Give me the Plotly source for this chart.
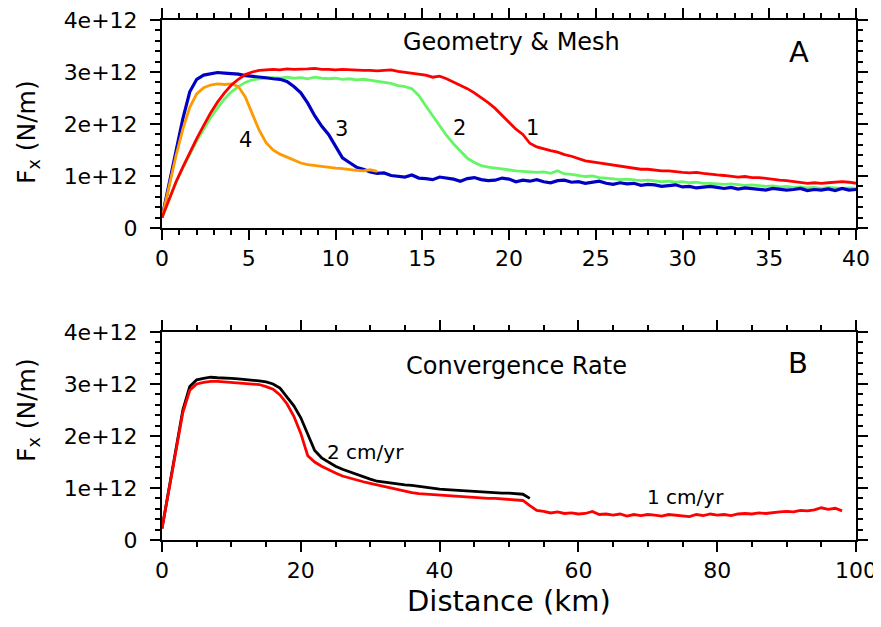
import plotly.graph_objects as go

# ---------------- Panel A data (Fx in units of 1e12 N/m) ----------------
dist_a = [0.0, 0.4, 0.8, 1.2, 1.6, 2.0, 2.4, 2.8, 3.2, 3.6,
          4.0, 4.4, 4.8, 5.2, 5.6, 6.0, 6.4, 6.8, 7.2, 7.6,
          8.0, 8.4, 8.8, 9.2, 9.6, 10.0, 10.4, 10.8, 11.2, 11.6,
          12.0, 12.4, 12.8, 13.2, 13.6, 14.0, 14.4, 14.8, 15.2, 15.6,
          16.0, 16.4, 16.8, 17.2, 17.6, 18.0, 18.4, 18.8, 19.2, 19.6,
          20.0, 20.4, 20.8, 21.2, 21.6, 22.0, 22.4, 22.8, 23.2, 23.6,
          24.0, 24.4, 24.8, 25.2, 25.6, 26.0, 26.4, 26.8, 27.2, 27.6,
          28.0, 28.4, 28.8, 29.2, 29.6, 30.0, 30.4, 30.8, 31.2, 31.6,
          32.0, 32.4, 32.8, 33.2, 33.6, 34.0, 34.4, 34.8, 35.2, 35.6,
          36.0, 36.4, 36.8, 37.2, 37.6, 38.0, 38.4, 38.8, 39.2, 39.6,
          40.0]

fx_case1 = [0.20, 0.55, 0.88, 1.17, 1.45, 1.72, 1.97, 2.21, 2.42, 2.60,
            2.75, 2.86, 2.95, 3.00, 3.03, 3.04, 3.05, 3.04, 3.06, 3.05,
            3.05, 3.06, 3.07, 3.05, 3.05, 3.04, 3.05, 3.04, 3.04, 3.03,
            3.03, 3.02, 3.03, 3.04, 3.01, 2.99, 2.98, 2.96, 2.94, 2.90,
            2.92, 2.87, 2.81, 2.75, 2.68, 2.60, 2.51, 2.41, 2.30, 2.16,
            2.03, 1.90, 1.80, 1.63, 1.56, 1.52, 1.49, 1.46, 1.41, 1.38,
            1.33, 1.29, 1.27, 1.25, 1.22, 1.20, 1.18, 1.17, 1.15, 1.13,
            1.13, 1.11, 1.10, 1.10, 1.08, 1.07, 1.06, 1.07, 1.05, 1.03,
            1.02, 1.01, 1.00, 0.98, 0.99, 0.97, 0.97, 0.95, 0.93, 0.92,
            0.91, 0.89, 0.88, 0.86, 0.87, 0.86, 0.87, 0.88, 0.89, 0.88,
            0.86]

fx_case2 = [0.20, 0.55, 0.87, 1.15, 1.42, 1.67, 1.90, 2.12, 2.31, 2.48,
            2.62, 2.72, 2.80, 2.85, 2.87, 2.88, 2.89, 2.88, 2.90, 2.88,
            2.89, 2.87, 2.90, 2.88, 2.87, 2.88, 2.86, 2.87, 2.85, 2.86,
            2.84, 2.83, 2.80, 2.78, 2.74, 2.72, 2.68, 2.55, 2.35, 2.16,
            1.98, 1.78, 1.62, 1.48, 1.34, 1.26, 1.20, 1.17, 1.15, 1.13,
            1.12, 1.10, 1.09, 1.08, 1.07, 1.08, 1.05, 1.10, 1.04, 1.03,
            1.01, 0.99, 1.00, 0.97, 0.96, 0.95, 0.93, 0.94, 0.92, 0.91,
            0.92, 0.90, 0.89, 0.90, 0.88, 0.89, 0.87, 0.88, 0.86, 0.86,
            0.85, 0.84, 0.85, 0.83, 0.82, 0.83, 0.81, 0.80, 0.81, 0.79,
            0.80, 0.78, 0.79, 0.77, 0.78, 0.76, 0.78, 0.77, 0.76, 0.77,
            0.76]

fx_case3 = [0.20, 0.85, 1.50, 2.10, 2.62, 2.86, 2.94, 2.97, 2.99, 2.98,
            2.97, 2.96, 2.93, 2.92, 2.90, 2.89, 2.87, 2.86, 2.82, 2.72,
            2.60, 2.40, 2.16, 1.96, 1.80, 1.57, 1.35, 1.26, 1.17, 1.13,
            1.08, 1.05, 1.06, 1.01, 1.00, 0.98, 1.02, 0.96, 0.95, 0.93,
            0.98, 0.96, 0.94, 0.90, 0.95, 0.97, 0.93, 0.91, 0.92, 0.96,
            0.94, 0.89, 0.92, 0.90, 0.93, 0.89, 0.87, 0.91, 0.92, 0.88,
            0.89, 0.86, 0.88, 0.90, 0.86, 0.84, 0.87, 0.85, 0.86, 0.82,
            0.84, 0.83, 0.80, 0.82, 0.83, 0.79, 0.80, 0.77, 0.79, 0.80,
            0.78, 0.76, 0.78, 0.75, 0.77, 0.76, 0.74, 0.73, 0.76, 0.75,
            0.73, 0.74, 0.76, 0.72, 0.74, 0.73, 0.75, 0.72, 0.76, 0.73,
            0.74]

dist_a4 = [0.0, 0.4, 0.8, 1.2, 1.6, 2.0, 2.4, 2.8, 3.2, 3.6,
           4.0, 4.4, 4.8, 5.2, 5.6, 6.0, 6.4, 6.8, 7.2, 7.6,
           8.0, 8.4, 8.8, 9.2, 9.6, 10.0, 10.4, 10.8, 11.2, 11.6,
           12.0, 12.4]
fx_case4 = [0.20, 0.80, 1.38, 1.90, 2.32, 2.58, 2.70, 2.75, 2.77, 2.76,
            2.77, 2.72, 2.52, 2.20, 1.88, 1.64, 1.50, 1.42, 1.36, 1.30,
            1.25, 1.22, 1.20, 1.18, 1.17, 1.15, 1.14, 1.12, 1.11, 1.10,
            1.12, 1.09]

# ---------------- Panel B data ----------------
dist_b = [0, 1, 2, 3, 4, 5, 6, 7, 8, 9,
          10, 11, 12, 13, 14, 15, 16, 17, 18, 19,
          20, 21, 22, 23, 24, 25, 26, 27, 28, 29,
          30, 31, 32, 33, 34, 35, 36, 37, 38, 39,
          40, 41, 42, 43, 44, 45, 46, 47, 48, 49,
          50, 51, 52, 53, 54, 55, 56, 57, 58, 59,
          60, 61, 62, 63, 64, 65, 66, 67, 68, 69,
          70, 71, 72, 73, 74, 75, 76, 77, 78, 79,
          80, 81, 82, 83, 84, 85, 86, 87, 88, 89,
          90, 91, 92, 93, 94, 95, 96, 97, 98]

fx_1cm = [0.22, 0.95, 1.72, 2.45, 2.88, 3.00, 3.03, 3.05, 3.05, 3.04,
          3.04, 3.03, 3.02, 3.00, 2.99, 2.95, 2.90, 2.79, 2.62, 2.38,
          2.05, 1.62, 1.50, 1.42, 1.35, 1.29, 1.23, 1.19, 1.15, 1.12,
          1.09, 1.06, 1.02, 0.99, 0.97, 0.94, 0.91, 0.89, 0.88, 0.87,
          0.86, 0.85, 0.85, 0.83, 0.83, 0.82, 0.81, 0.80, 0.80, 0.79,
          0.78, 0.77, 0.76, 0.66, 0.57, 0.55, 0.52, 0.54, 0.51, 0.52,
          0.50, 0.51, 0.55, 0.49, 0.50, 0.48, 0.50, 0.46, 0.49, 0.47,
          0.49, 0.48, 0.46, 0.49, 0.48, 0.47, 0.45, 0.49, 0.47, 0.50,
          0.48, 0.49, 0.47, 0.50, 0.51, 0.50, 0.52, 0.51, 0.53, 0.54,
          0.55, 0.54, 0.57, 0.56, 0.58, 0.62, 0.59, 0.61, 0.56]

dist_b2 = [0, 1, 2, 3, 4, 5, 6, 7, 8, 9,
           10, 11, 12, 13, 14, 15, 16, 17, 18, 19,
           20, 21, 22, 23, 24, 25, 26, 27, 28, 29,
           30, 31, 32, 33, 34, 35, 36, 37, 38, 39,
           40, 41, 42, 43, 44, 45, 46, 47, 48, 49,
           50, 51, 52, 53]
fx_2cm = [0.22, 0.97, 1.76, 2.50, 2.95, 3.08, 3.11, 3.13, 3.12, 3.12,
          3.11, 3.10, 3.09, 3.08, 3.06, 3.04, 3.00, 2.92, 2.76, 2.58,
          2.35, 2.02, 1.72, 1.58, 1.50, 1.42, 1.36, 1.31, 1.27, 1.22,
          1.17, 1.13, 1.11, 1.09, 1.07, 1.06, 1.05, 1.03, 1.01, 1.00,
          0.98, 0.97, 0.96, 0.96, 0.94, 0.93, 0.92, 0.92, 0.91, 0.90,
          0.90, 0.89, 0.88, 0.80]

y_tick_vals = [0, 1, 2, 3, 4]
y_tick_text = ["0", "1e+12", "2e+12", "3e+12", "4e+12"]

E12 = 1e12


def scale(vals):
    return [v * E12 for v in vals]


FONT = "DejaVu Sans"
W, H = 873, 611   # page has an 8 px body margin; figure placed inside it
OFF = 8


def px_x(px):
    return (px - OFF) / W


def px_y(py):
    return 1 - (py - OFF) / H


fig = go.Figure()

# Panel A traces
fig.add_trace(go.Scatter(x=dist_a, y=scale(fx_case2), mode="lines",
                         line=dict(color="#66f566", width=2.8), xaxis="x", yaxis="y"))
fig.add_trace(go.Scatter(x=dist_a, y=scale(fx_case3), mode="lines",
                         line=dict(color="#0000c4", width=3.2), xaxis="x", yaxis="y"))
fig.add_trace(go.Scatter(x=dist_a4, y=scale(fx_case4), mode="lines",
                         line=dict(color="#ff9900", width=2.8), xaxis="x", yaxis="y"))
fig.add_trace(go.Scatter(x=dist_a, y=scale(fx_case1), mode="lines",
                         line=dict(color="#ff0000", width=2.8), xaxis="x", yaxis="y"))

# Panel B traces
fig.add_trace(go.Scatter(x=dist_b2, y=scale(fx_2cm), mode="lines",
                         line=dict(color="#000000", width=2.8), xaxis="x2", yaxis="y2"))
fig.add_trace(go.Scatter(x=dist_b, y=scale(fx_1cm), mode="lines",
                         line=dict(color="#ff0000", width=2.8), xaxis="x2", yaxis="y2"))

x_dom = [px_x(162), px_x(856)]
top_dom = [px_y(228), px_y(20)]
bot_dom = [px_y(540), px_y(332)]

common = dict(showline=True, linecolor="black", linewidth=2, mirror="allticks",
              ticks="outside", ticklen=10, tickwidth=1.5, tickcolor="black",
              showgrid=False, zeroline=False, automargin=False,
              ticklabeloverflow="allow",
              tickfont=dict(family=FONT, size=22, color="black"))


def xaxis(rng, dt, mdt, dom, anchor, standoff):
    d = dict(common)
    d.update(range=rng, dtick=dt, tick0=0, domain=dom, anchor=anchor,
             ticklabelstandoff=standoff,
             minor=dict(dtick=mdt, tick0=0, ticks="outside", ticklen=5,
                        tickwidth=1.5, tickcolor="black", showgrid=False))
    return d


def yaxis(dom, anchor):
    d = dict(common)
    d.update(range=[0, 4 * E12], tickvals=[v * E12 for v in y_tick_vals],
             ticktext=y_tick_text, domain=dom, anchor=anchor,
             ticklabelstandoff=8,
             minor=dict(dtick=0.2 * E12, tick0=0, ticks="outside", ticklen=5,
                        tickwidth=1.5, tickcolor="black", showgrid=False))
    return d


annots = []


def txt(x, y, s, size, xref, yref, **kw):
    a = dict(x=x, y=y, text=s, xref=xref, yref=yref, showarrow=False,
             xanchor="center", yanchor="middle",
             font=dict(family=FONT, size=size, color="black"))
    a.update(kw)
    annots.append(a)


# Panel A labels
txt(20.17, 3.57 * E12, "Geometry &amp; Mesh", 24, "x", "y")
txt(36.7, 3.38 * E12, "A", 29, "x", "y")
txt(21.33, 1.93 * E12, "1", 21, "x", "y")
txt(17.14, 1.93 * E12, "2", 21, "x", "y")
txt(10.36, 1.91 * E12, "3", 21, "x", "y")
txt(4.84, 1.70 * E12, "4", 21, "x", "y")
# Panel B labels
txt(51.1, 3.35 * E12, "Convergence Rate", 24, "x2", "y2")
txt(91.7, 3.40 * E12, "B", 29, "x2", "y2")
txt(29.35, 1.70 * E12, "2 cm/yr", 20, "x2", "y2")
txt(75.4, 0.83 * E12, "1 cm/yr", 20, "x2", "y2")
# Axis titles
txt(px_x(28), px_y(132), "F<sub>x</sub> (N/m)", 25, "paper", "paper", textangle=-90)
txt(px_x(28), px_y(410), "F<sub>x</sub> (N/m)", 25, "paper", "paper", textangle=-90)
txt(px_x(509), px_y(601), "Distance (km)", 29, "paper", "paper")

fig.update_layout(
    width=W, height=H,
    margin=dict(l=0, r=0, t=0, b=0, pad=0, autoexpand=False),
    paper_bgcolor="white", plot_bgcolor="white",
    showlegend=False,
    xaxis=xaxis([0, 40], 5, 1, x_dom, "y", 0),
    yaxis=yaxis(top_dom, "x"),
    xaxis2=xaxis([0, 100], 20, 5, x_dom, "y2", 0),
    yaxis2=yaxis(bot_dom, "x2"),
    annotations=annots,
)

fig.write_html("out.html")
